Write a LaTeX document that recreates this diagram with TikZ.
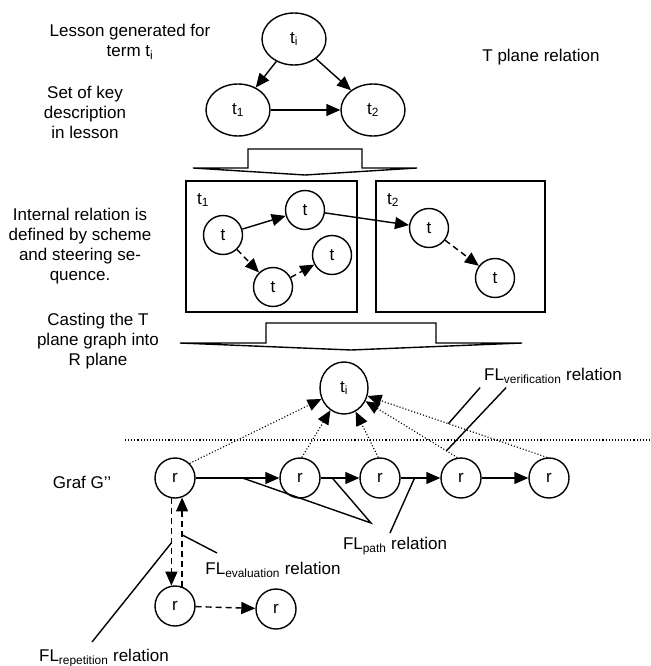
\documentclass[tikz,border=0pt]{standalone}
\usepackage{fontspec}
\setmainfont{Liberation Sans}
\usetikzlibrary{arrows.meta,shapes.geometric}

\begin{document}
\begin{tikzpicture}[x=1pt,y=-1pt,line width=1.4pt,
    every node/.style={font=\fontsize{17}{20}\selectfont,line width=1.4pt},
    bigterm/.style={draw,ellipse,minimum width=64pt,minimum height=52pt,inner sep=0pt},
    term/.style={draw,circle,minimum size=39pt,inner sep=0pt},
    tip/.style={-{Triangle[length=14pt,width=12pt]}},
    dashtip/.style={tip,dash pattern=on 6pt off 4pt},
    dottip/.style={tip,line width=1.1pt,dotted}]
  \useasboundingbox (0,0) rectangle (650,666);

  % T plane
  \node[bigterm] (ti) at (294,39) {t\textsubscript{i}};
  \node[bigterm] (t1) at (238,110) {t\textsubscript{1}};
  \node[bigterm] (t2) at (373,110) {t\textsubscript{2}};
  \draw[tip] (ti) -- (t1);
  \draw[tip] (ti) -- (t2);
  \draw[tip] (t1) -- (t2);
  \node[align=center] (lesson) at (130,42) {Lesson generated for\\term t\textsubscript{i}};
  \node (tplane) at (541,57) {T plane relation};
  \node[align=center] (keyset) at (85,112) {Set of key\\description\\in lesson};

  \draw (193,168) -- (248,168) -- (248,149) -- (362,149) -- (362,168) -- (417,168) -- (305,175) -- cycle;

  % lesson boxes
  \draw (186,181) rectangle (357,312);
  \draw (376,181) rectangle (545,312);
  \node (box1) at (203,200) {t\textsubscript{1}};
  \node (box2) at (393,200) {t\textsubscript{2}};
  \node[term] (ta) at (223,235) {t};
  \node[term] (tb) at (305,210) {t};
  \node[term] (tc) at (273,287) {t};
  \node[term] (td) at (332,255) {t};
  \node[term] (te) at (429,228) {t};
  \node[term] (tf) at (495,278) {t};
  \draw[tip] (ta) -- (tb);
  \draw[dashtip] (ta) -- (tc);
  \draw[dashtip] (tc) -- (td);
  \draw[tip] (tb) -- (te);
  \draw[dashtip] (te) -- (tf);
  \node[align=center] (internal) at (80,246) {Internal relation is\\defined by scheme\\and steering se-\\quence.};

  \draw (180,343) -- (266,343) -- (266,323) -- (436,323) -- (436,343) -- (522,343) -- (351,350) -- cycle;
  \node[align=center] (casting) at (98,341) {Casting the T\\plane graph into\\R plane};

  % R plane
  \node[draw,ellipse,minimum width=48pt,minimum height=52pt,inner sep=0pt] (tr) at (344,388) {t\textsubscript{i}};
  \draw[dotted,line width=1.1pt] (125,440) -- (650,440);
  \foreach \n/\x in {1/175,2/300,3/380,4/461,5/549}
    \node[term,minimum size=40pt] (r\n) at (\x,478) {r};
  \node[term,minimum size=40pt] (r6) at (175,606) {r};
  \node[term,minimum size=40pt] (r7) at (276,609) {r};
  \node (graf) at (82,482) {Graf G’’};

  \foreach \a/\b/\p in {1/2/0.56,2/3/0.3,3/4/0.35,4/5/0.5}
    \draw[tip] (r\a) -- coordinate[pos=\p] (p\a) (r\b);
  \foreach \n/\ang/\p in {1/45/0.5,2/85/0.5,3/95/0.5,4/100/0.12,5/95/0.55}
    \draw[dottip] (r\n.\ang) -- coordinate[pos=\p] (v\n) (tr);

  \draw[dashtip] (r1.-100) -- coordinate[pos=0.51] (dn) (r6.100);
  \draw[dashtip] (r6.70) -- coordinate[pos=0.58] (up) (r1.-70);
  \draw[dashtip] (r6) -- (r7);

  % relation labels
  \node (flver) at (553,376) {FL\textsubscript{verification} relation};
  \draw (flver.south west) -- (v5);
  \draw ([xshift=26pt]flver.south west) -- (v4);
  \node (flpath) at (395,546) {FL\textsubscript{path} relation};
  \coordinate (fp) at (371,523);
  \coordinate (fq) at (390,533);
  \draw (p1) -- (fp) -- (p2);
  \draw (p3) -- (fq);
  \node (fleval) at (273,570) {FL\textsubscript{evaluation} relation};
  \coordinate (fe) at (217,553);
  \draw (up) -- (fe);
  \node (flrep) at (104,658) {FL\textsubscript{repetition} relation};
  \coordinate (fr) at (92,642);
  \draw (dn) -- (fr);
\end{tikzpicture}
\end{document}
